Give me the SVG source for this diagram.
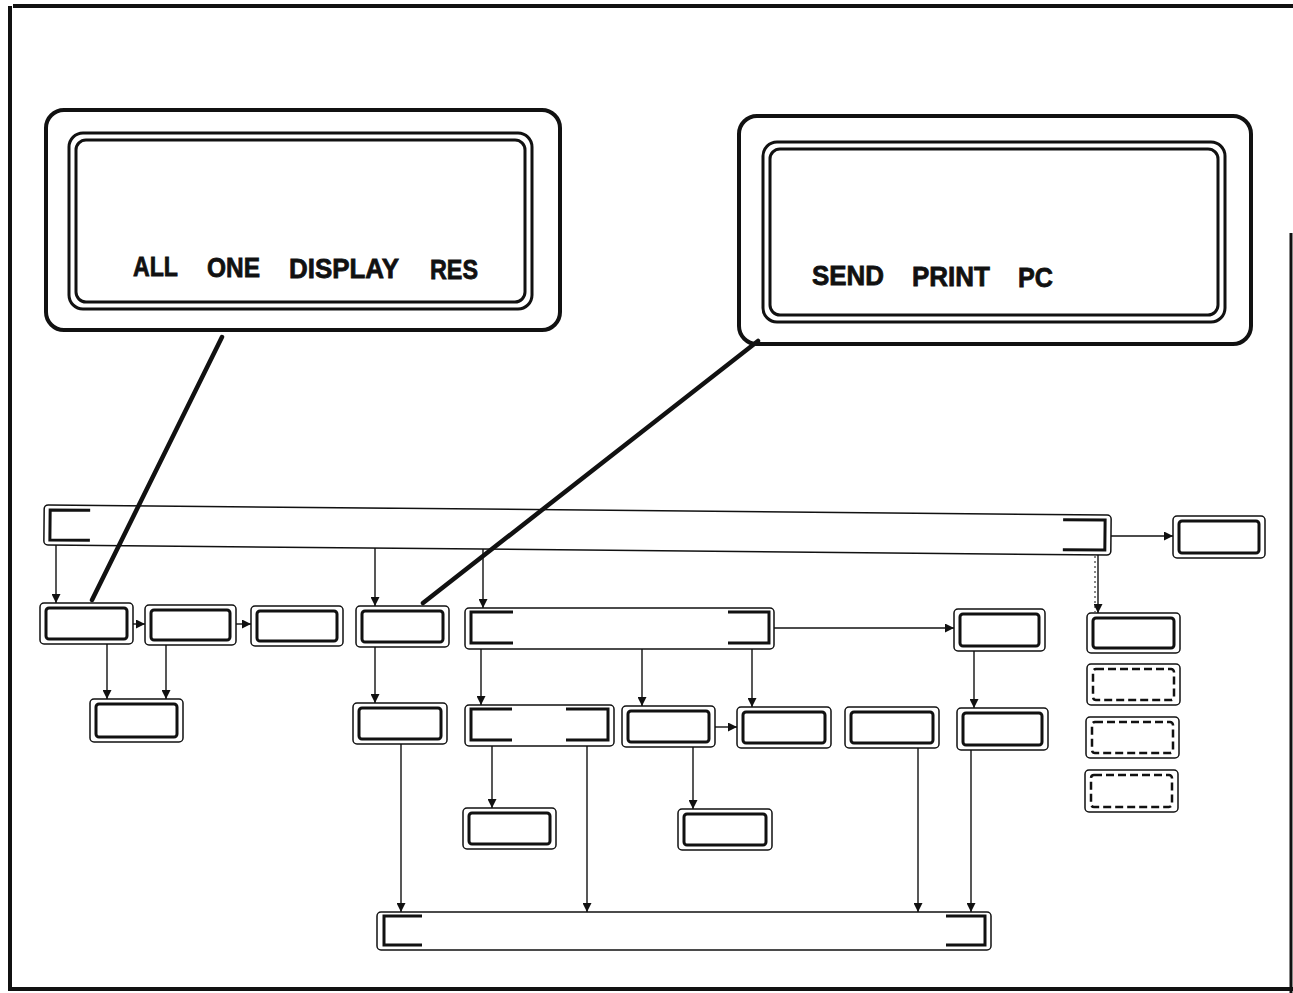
<svg xmlns="http://www.w3.org/2000/svg" width="1293" height="993" viewBox="0 0 1293 993">
<style>
.o{fill:#fff;stroke:#111;stroke-width:1.5}
.i{fill:none;stroke:#111;stroke-width:3}
.d{fill:none;stroke:#111;stroke-width:2.5;stroke-dasharray:8 4}
.b{fill:none;stroke:#111;stroke-width:3}
.c{fill:none;stroke:#111;stroke-width:1.4}
.p{fill:none;stroke:#111;stroke-width:4.5;stroke-linecap:round}
.f{fill:none;stroke:#111;stroke-width:4}
.t{font-family:"Liberation Sans",Arial,sans-serif;font-weight:bold;font-size:28px;fill:#111;stroke:#111;stroke-width:0.8}
.dispO{fill:#fff;stroke:#111;stroke-width:4}
.dispI{fill:none;stroke:#111;stroke-width:3}
</style>
<defs>
<marker id="ah" viewBox="0 0 10 10" refX="10" refY="5" markerWidth="10" markerHeight="9" markerUnits="userSpaceOnUse" orient="auto">
<path d="M0,0 L10,5 L0,10 z" fill="#111"/>
</marker>
</defs>
<rect width="1293" height="993" fill="#fff"/>
<g id="frame">
<path class="f" d="M13,6 H1293 M10,6 V989 H1293"/>
<path d="M1291,233 V993" stroke="#111" stroke-width="3"/>
</g>

<g id="display-left">
<rect class="dispO" x="46" y="110" width="514" height="220" rx="18"/>
<rect class="dispI" x="69" y="133" width="463" height="176" rx="14"/>
<rect class="dispI" x="76" y="140" width="449" height="162" rx="10"/>
<text class="t" x="133" y="276" textLength="45" lengthAdjust="spacingAndGlyphs">ALL</text>
<text class="t" x="207" y="277" textLength="53" lengthAdjust="spacingAndGlyphs">ONE</text>
<text class="t" x="289" y="278" textLength="110" lengthAdjust="spacingAndGlyphs">DISPLAY</text>
<text class="t" x="430" y="279" textLength="48" lengthAdjust="spacingAndGlyphs">RES</text>
</g>
<g id="display-right">
<rect class="dispO" x="739" y="116" width="512" height="228" rx="18"/>
<rect class="dispI" x="763" y="142" width="462" height="180" rx="14"/>
<rect class="dispI" x="770" y="149" width="448" height="166" rx="10"/>
<text class="t" x="812" y="285" textLength="72" lengthAdjust="spacingAndGlyphs">SEND</text>
<text class="t" x="912" y="286" textLength="78" lengthAdjust="spacingAndGlyphs">PRINT</text>
<text class="t" x="1018" y="287" textLength="35" lengthAdjust="spacingAndGlyphs">PC</text>
</g>

<g id="topbar" transform="rotate(0.55 577.5 530)">
<rect class="o" x="44" y="510" width="1067" height="40" rx="4"/>
<path class="b" d="M90,515 H50 V545 H90 M1063,515 H1105 V545 H1063"/>
</g>
<g id="n-topright"><rect class="o" x="1173" y="516" width="92" height="42" rx="4"/><rect class="i" x="1179" y="521" width="80" height="32" rx="3"/></g>

<g id="n1"><rect class="o" x="40" y="603" width="93" height="41" rx="4"/><rect class="i" x="46" y="608" width="81" height="31" rx="3"/></g>
<g id="n2"><rect class="o" x="145" y="605" width="91" height="40" rx="4"/><rect class="i" x="151" y="610" width="79" height="30" rx="3"/></g>
<g id="n3"><rect class="o" x="251" y="606" width="92" height="40" rx="4"/><rect class="i" x="257" y="611" width="80" height="30" rx="3"/></g>
<g id="n4"><rect class="o" x="356" y="606" width="93" height="41" rx="4"/><rect class="i" x="362" y="611" width="81" height="31" rx="3"/></g>
<g id="n5"><rect class="o" x="465" y="608" width="309" height="41" rx="4"/><path class="b" d="M513,612 H471 V643 H513 M728,612 H769 V643 H728"/></g>
<g id="n6"><rect class="o" x="954" y="609" width="91" height="42" rx="4"/><rect class="i" x="960" y="614" width="79" height="32" rx="3"/></g>
<g id="n7"><rect class="o" x="1087" y="613" width="93" height="40" rx="4"/><rect class="i" x="1093" y="618" width="81" height="30" rx="3"/></g>
<g id="n-d1"><rect class="o" x="1087" y="664" width="93" height="41" rx="4"/><rect class="d" x="1093" y="669" width="81" height="31" rx="3"/></g>
<g id="n-d2"><rect class="o" x="1086" y="717" width="93" height="41" rx="4"/><rect class="d" x="1092" y="722" width="81" height="31" rx="3"/></g>
<g id="n-d3"><rect class="o" x="1085" y="770" width="93" height="42" rx="4"/><rect class="d" x="1091" y="775" width="81" height="32" rx="3"/></g>

<g id="n8"><rect class="o" x="90" y="699" width="93" height="43" rx="4"/><rect class="i" x="96" y="704" width="81" height="33" rx="3"/></g>
<g id="n9"><rect class="o" x="353" y="703" width="94" height="41" rx="4"/><rect class="i" x="359" y="708" width="82" height="31" rx="3"/></g>
<g id="n10"><rect class="o" x="465" y="705" width="149" height="41" rx="4"/><path class="b" d="M512,709 H471 V740 H512 M566,709 H608 V740 H566"/></g>
<g id="n11"><rect class="o" x="622" y="706" width="93" height="41" rx="4"/><rect class="i" x="628" y="711" width="81" height="31" rx="3"/></g>
<g id="n12"><rect class="o" x="737" y="707" width="94" height="41" rx="4"/><rect class="i" x="743" y="712" width="82" height="31" rx="3"/></g>
<g id="n13"><rect class="o" x="845" y="707" width="94" height="41" rx="4"/><rect class="i" x="851" y="712" width="82" height="31" rx="3"/></g>
<g id="n14"><rect class="o" x="957" y="708" width="91" height="42" rx="4"/><rect class="i" x="963" y="713" width="79" height="32" rx="3"/></g>
<g id="n15"><rect class="o" x="463" y="808" width="93" height="41" rx="4"/><rect class="i" x="469" y="813" width="81" height="31" rx="3"/></g>
<g id="n16"><rect class="o" x="678" y="809" width="94" height="41" rx="4"/><rect class="i" x="684" y="814" width="82" height="31" rx="3"/></g>

<g id="bottombar"><rect class="o" x="377" y="912" width="614" height="38" rx="4"/><path class="b" d="M422,916 H384 V945 H422 M946,916 H985 V945 H946"/></g>

<g id="connectors">
<path class="p" d="M222,337 L92,600"/>
<path class="p" d="M758,341 L423,603"/>
<path class="c" marker-end="url(#ah)" d="M56,545 V603"/>
<path class="c" marker-end="url(#ah)" d="M375,548 V606"/>
<path class="c" marker-end="url(#ah)" d="M483,549 V608"/>
<path class="c" marker-end="url(#ah)" d="M1111,536 H1173"/>
<path class="c" marker-end="url(#ah)" d="M1098,555 V613"/>
<path d="M1095,556 V612" stroke="#111" stroke-width="1" stroke-dasharray="2 3" fill="none"/>
<path class="c" marker-end="url(#ah)" d="M133,624 H145"/>
<path class="c" marker-end="url(#ah)" d="M236,624 H251"/>
<path class="c" marker-end="url(#ah)" d="M107,644 V699"/>
<path class="c" marker-end="url(#ah)" d="M166,645 V699"/>
<path class="c" marker-end="url(#ah)" d="M375,647 V703"/>
<path class="c" marker-end="url(#ah)" d="M481,649 V705"/>
<path class="c" marker-end="url(#ah)" d="M642,649 V706"/>
<path class="c" marker-end="url(#ah)" d="M752,649 V707"/>
<path class="c" marker-end="url(#ah)" d="M774,628 H954"/>
<path class="c" marker-end="url(#ah)" d="M715,727 H737"/>
<path class="c" marker-end="url(#ah)" d="M492,746 V808"/>
<path class="c" marker-end="url(#ah)" d="M693,747 V809"/>
<path class="c" marker-end="url(#ah)" d="M974,651 V708"/>
<path class="c" marker-end="url(#ah)" d="M401,744 V912"/>
<path class="c" marker-end="url(#ah)" d="M587,746 V912"/>
<path class="c" marker-end="url(#ah)" d="M918,748 V912"/>
<path class="c" marker-end="url(#ah)" d="M971,750 V912"/>
</g>
</svg>
